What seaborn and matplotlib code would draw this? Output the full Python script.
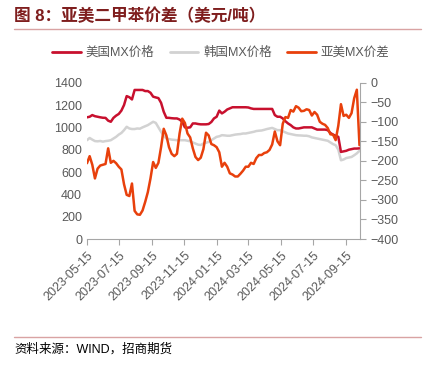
import pandas as pd
import matplotlib.pyplot as plt
import matplotlib.dates as mdates
from matplotlib.lines import Line2D
import seaborn as sns

# x axis: one reading every 5 days from 2023-05-15
dates = pd.date_range("2023-05-15", periods=104, freq="5D")

# 美国MX价格 (left axis, USD/t)
us_price = [1090, 1095, 1110, 1100, 1095, 1090, 1086, 1085, 1060, 1050,
            1085, 1105, 1120, 1150, 1200, 1280, 1270, 1250, 1335, 1335,
            1335, 1335, 1325, 1325, 1310, 1275, 1268, 1262, 1220, 1140,
            1086, 1085, 1082, 1080, 1080, 1070, 1050, 1000, 997, 1000,
            1035, 1035, 1030, 1027, 1027, 1027, 1030, 1048, 1080, 1095,
            1150, 1125, 1140, 1160, 1170, 1180, 1180, 1180, 1180, 1180,
            1180, 1178, 1170, 1165, 1165, 1165, 1165, 1165, 1165, 1165,
            1165, 1110, 1095, 1095, 1080, 1055, 1035, 1020, 1000, 990,
            990, 995, 1000, 1000, 1000, 1000, 990, 980, 980, 980,
            980, 975, 950, 935, 925, 915, 780, 785, 790, 800,
            805, 810, 810, 812]

# 韩国MX价格 (left axis, USD/t)
kr_price = [885, 905, 890, 877, 875, 878, 872, 877, 880, 885,
            900, 915, 935, 950, 975, 1005, 990, 985, 985, 990,
            988, 1000, 1010, 1020, 1035, 1050, 1040, 1000, 960, 925,
            900, 895, 890, 888, 885, 885, 885, 885, 880, 875,
            865, 855, 845, 842, 855, 862, 870, 885, 900, 915,
            920, 930, 928, 925, 925, 930, 935, 938, 940, 945,
            945, 950, 955, 960, 967, 970, 972, 978, 985, 990,
            995, 985, 975, 975, 965, 955, 945, 940, 935, 930,
            928, 927, 925, 925, 920, 910, 905, 900, 895, 890,
            885, 880, 865, 850, 840, 800, 705, 712, 725, 730,
            735, 750, 767, 790]

# 亚美MX价差 (right axis, USD/t)
spread = [-206, -188, -210, -245, -220, -212, -210, -208, -168, -205,
          -200, -206, -215, -222, -260, -287, -290, -258, -328, -337,
          -338, -327, -305, -280, -245, -203, -218, -205, -165, -118,
          -135, -165, -182, -188, -182, -130, -92, -103, -130, -140,
          -168, -190, -198, -192, -170, -128, -135, -157, -160, -165,
          -178, -215, -205, -215, -232, -235, -240, -240, -233, -225,
          -215, -215, -205, -208, -193, -185, -185, -180, -178, -172,
          -158, -125, -150, -160, -105, -88, -90, -70, -74, -60,
          -64, -73, -72, -68, -70, -84, -75, -82, -100, -105,
          -108, -116, -132, -133, -147, -110, -55, -85, -82, -90,
          -78, -40, -18, -160]

tick_dates = ["2023-05-15", "2023-07-15", "2023-09-15", "2023-11-15", "2024-01-15",
              "2024-03-15", "2024-05-15", "2024-07-15", "2024-09-15"]

df = pd.DataFrame({"date": dates, "us": us_price, "kr": kr_price, "spread": spread})

sns.set_style("white")
plt.rcParams['font.family'] = ['Liberation Sans', 'Noto Sans CJK SC', 'DejaVu Sans']

c_us = "#C8102E"
c_kr = "#D2D2D2"
c_sp = "#E8400C"
grey = "#595959"

fig = plt.figure(figsize=(4.33, 3.65), dpi=100)
ax = fig.add_axes([87/433, 1 - 239/365, (360 - 87)/433, (239 - 82.7)/365])
ax2 = ax.twinx()

sns.lineplot(data=df, x="date", y="kr", ax=ax, color=c_kr, lw=1.8, label="韩国MX价格", legend=False)
sns.lineplot(data=df, x="date", y="us", ax=ax, color=c_us, lw=1.8, label="美国MX价格", legend=False)
sns.lineplot(data=df, x="date", y="spread", ax=ax2, color=c_sp, lw=1.8, label="亚美MX价差", legend=False)

ax.set_xlim(pd.Timestamp("2023-05-15"), pd.Timestamp("2024-10-12"))
ax.set_ylim(0, 1400)
ax.set_yticks(range(0, 1401, 200))
ax2.set_ylim(-400, 0)
ax2.set_yticks(range(-400, 1, 50))

ax.set_xticks(pd.to_datetime(tick_dates))
ax.xaxis.set_major_formatter(mdates.DateFormatter("%Y-%m-%d"))
for lbl in ax.get_xticklabels():
    lbl.set_rotation(45)
    lbl.set_ha("right")
    lbl.set_rotation_mode("anchor")

ax.set_xlabel("")
ax.set_ylabel("")
ax2.set_ylabel("")

for a in (ax, ax2):
    for s in a.spines.values():
        s.set_visible(False)
    a.tick_params(labelsize=9, colors=grey)
ax.spines["bottom"].set_visible(True)
ax.spines["bottom"].set_color("#A6A6A6")
ax2.spines["right"].set_visible(True)
ax2.spines["right"].set_color("#A6A6A6")
ax.tick_params(axis="x", length=4, color="#A6A6A6", direction="out", bottom=True)
ax.tick_params(axis="y", length=0, left=True)
ax2.tick_params(axis="y", length=4, color="#A6A6A6", direction="out", right=True)

# legend across the top
handles = [Line2D([], [], color=c_us, lw=2),
           Line2D([], [], color=c_kr, lw=2),
           Line2D([], [], color=c_sp, lw=2)]
fig.legend(handles, ["美国MX价格", "韩国MX价格", "亚美MX价差"], loc="center",
           bbox_to_anchor=(0.51, 1 - 53/365), ncol=3, frameon=False,
           fontsize=9, labelcolor=grey, handlelength=2.3, handletextpad=0.4,
           columnspacing=1.2)

# title and rules
fig.text(14/433, 1 - 16/365, "图 8：亚美二甲苯价差（美元/吨）", color="#7F1E1E",
         fontsize=12, fontweight="bold", va="center", ha="left")
fig.add_artist(Line2D([14/433, 421/433], [1 - 29/365] * 2, color="#D9A3A3", lw=1))
fig.add_artist(Line2D([14/433, 421/433], [1 - 337/365] * 2, color="#D9A3A3", lw=1))
fig.text(14/433, 1 - 349/365, "资料来源：WIND，招商期货", color="black",
         fontsize=9, va="center", ha="left")

plt.savefig("out.png", dpi=100)
